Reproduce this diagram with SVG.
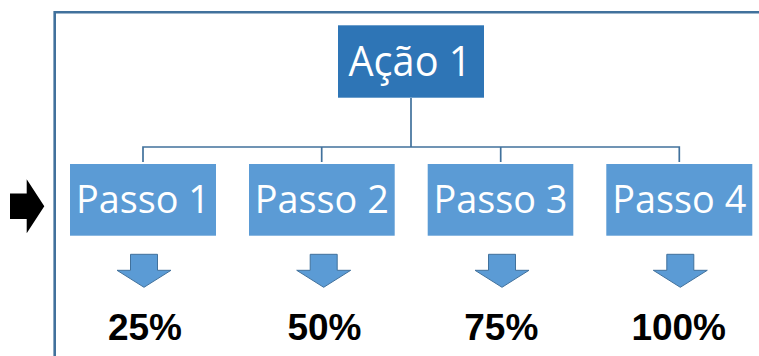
<svg xmlns="http://www.w3.org/2000/svg" width="759" height="356" viewBox="0 0 759 356">
<style>
.frame{fill:none;stroke:#41719C;stroke-width:2.6}
.conn{fill:none;stroke:#41719C;stroke-width:1.7}
.top{fill:#2E75B6}
.step{fill:#5B9BD5}
.lbl{font-family:"Open Sans","Liberation Sans",sans-serif;fill:#fff;text-anchor:middle}
.pct{font-family:"Liberation Sans",Arial,sans-serif;font-weight:bold;font-size:37px;fill:#000;text-anchor:middle}
.darr{fill:#5B9BD5;stroke:#41719C;stroke-width:1}
</style>
<defs>
<path id="down" d="M-13.5,0 H13.5 V16 H27 L0,33 L-27,16 H-13.5 Z"/>
</defs>
<rect width="759" height="356" fill="#fff"/>
<path class="frame" d="M54.7,356 V12.3 H759"/>
<path d="M10,193.5 H26.7 V179.3 L44.3,206.3 L26.7,233.3 V219 H10 Z" fill="#000"/>
<g id="connectors">
<path class="conn" d="M411,98 V147 M143,162 V147 H679.3 V162 M321.7,147 V162 M500.7,147 V162"/>
</g>
<g id="acao1">
<rect class="top" x="338" y="25.3" width="146" height="72.4"/>
<text class="lbl" x="410" y="76" font-size="42" textLength="123" lengthAdjust="spacingAndGlyphs">Ação 1</text>
</g>
<g id="passo1">
<rect class="step" x="70" y="164" width="146" height="71.7"/>
<text class="lbl" x="143" y="212.7" font-size="38.5" textLength="134" lengthAdjust="spacingAndGlyphs">Passo 1</text>
</g>
<g id="passo2">
<rect class="step" x="249" y="164" width="145.7" height="71.7"/>
<text class="lbl" x="321.8" y="212.7" font-size="38.5" textLength="134" lengthAdjust="spacingAndGlyphs">Passo 2</text>
</g>
<g id="passo3">
<rect class="step" x="427.7" y="164" width="145.6" height="71.7"/>
<text class="lbl" x="500.5" y="212.7" font-size="38.5" textLength="134" lengthAdjust="spacingAndGlyphs">Passo 3</text>
</g>
<g id="passo4">
<rect class="step" x="606.3" y="164" width="146" height="71.7"/>
<text class="lbl" x="679.3" y="212.7" font-size="38.5" textLength="134" lengthAdjust="spacingAndGlyphs">Passo 4</text>
</g>
<g id="seta1"><use href="#down" class="darr" x="144" y="254.3"/></g>
<g id="seta2"><use href="#down" class="darr" x="323.7" y="254.3"/></g>
<g id="seta3"><use href="#down" class="darr" x="502" y="254.3"/></g>
<g id="seta4"><use href="#down" class="darr" x="680.3" y="254.3"/></g>
<g id="pct1"><text class="pct" x="145" y="340">25%</text></g>
<g id="pct2"><text class="pct" x="324.5" y="340">50%</text></g>
<g id="pct3"><text class="pct" x="501.3" y="340">75%</text></g>
<g id="pct4"><text class="pct" x="678.7" y="340">100%</text></g>
</svg>
